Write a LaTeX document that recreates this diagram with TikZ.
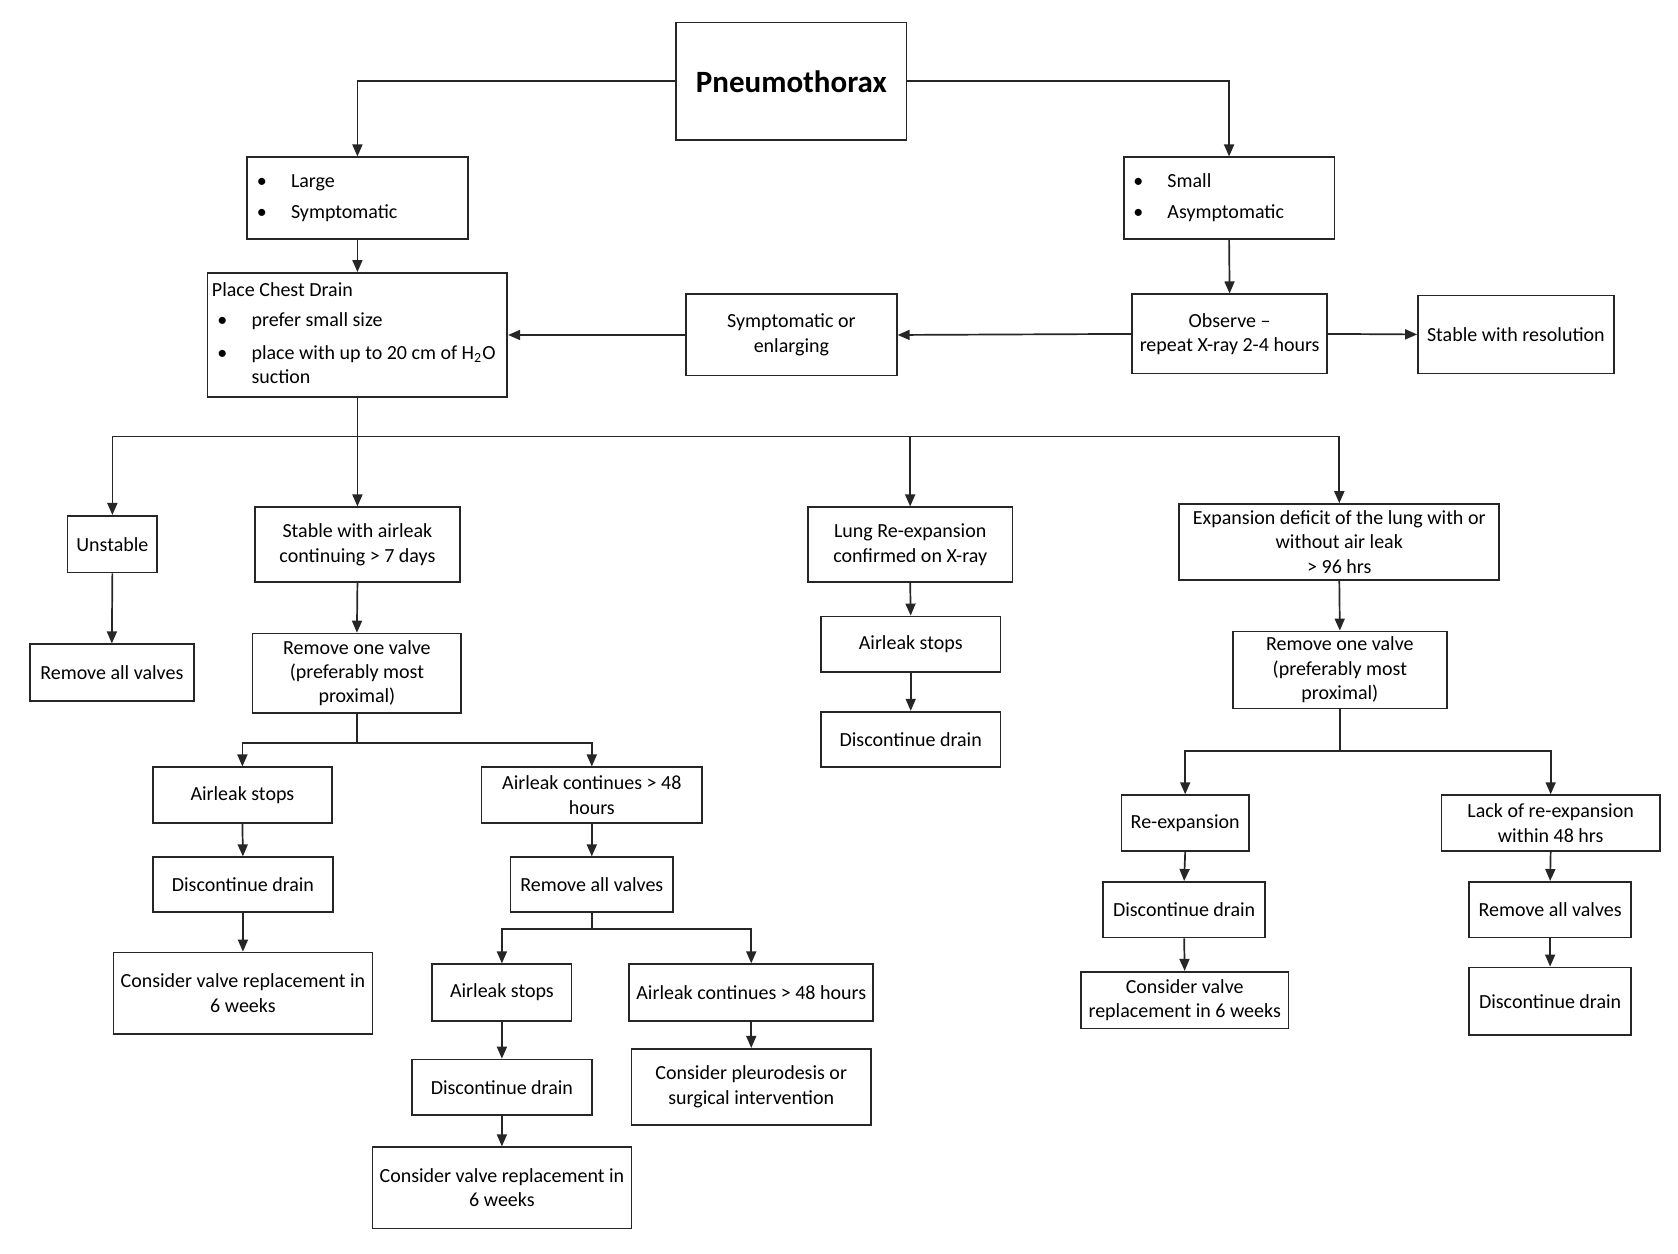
\documentclass[tikz,border=0pt]{standalone}
\usepackage{fontspec}
\setmainfont{Carlito}
\usetikzlibrary{arrows.meta}
\def\ux{0.5351pt}
% bullet with a fixed-width slot for list items inside boxes
\newcommand\bul{\makebox[17.1pt][l]{\textbullet}}
% left-aligned block of lines filling a given width
\newcommand\leftblock[2]{\makebox[#1][l]{\begin{tabular}{@{}l@{}}#2\end{tabular}}}
% \flowbox[options]{name}{x1}{y1}{x2}{y2}{text}: a box given by its corners
\newcommand\flowbox[7][]{%
  \node[box,minimum width={(#5-#3)*\ux},minimum height={(#6-#4)*\ux},#1]
    (#2) at ({(#3+#5)/2},{(#4+#6)/2}) {#7};}
\begin{document}
\begin{tikzpicture}[x=\ux,y=-\ux,
  box/.style={draw=black!85,line width=0.85pt,fill=white,inner sep=2pt,
    align=center,font=\fontsize{10}{12.2}\selectfont},
  link/.style={draw=black!85,line width=0.85pt},
  arr/.style={link,-{Triangle[length=6pt,width=5pt]}}]
\fill[white] (0,0) rectangle (1568,1171);
\useasboundingbox (0,0) rectangle (1568,1171);

% top level
\flowbox[font=\fontsize{15.5}{18}\selectfont\bfseries]{pneu}{632}{21}{847}{131}{Pneumothorax}
\flowbox[inner xsep=0pt]{large}{231}{147}{437}{223}{\leftblock{100.6pt}{\bul Large\\[3.6pt]\bul Symptomatic}}
\flowbox[inner xsep=0pt]{small}{1050}{147}{1247}{223}{\leftblock{95.8pt}{\bul Small\\[3.6pt]\bul Asymptomatic}}
\flowbox[inner xsep=0pt]{drain}{194}{255}{474}{371}{\leftblock{145.5pt}{Place Chest Drain\\[3pt]\hspace*{2.7pt}\bul prefer small size\\[4pt]\hspace*{2.7pt}\bul place with up to 20 cm of H\textsubscript{2}O\\[-0.3pt]\hspace*{19.8pt}suction}}
\flowbox{symp}{641}{275}{838}{351}{Symptomatic or\\enlarging}
\flowbox{observe}{1058}{275}{1240}{349}{Observe –\\repeat X-ray 2-4 hours}
\flowbox{resol}{1325}{276}{1508}{349}{Stable with resolution}

% second level
\flowbox{unstable}{63}{482}{147}{535}{Unstable}
\flowbox{rav1}{28}{602}{181}{655}{Remove all valves}
\flowbox{leak7}{238}{474}{430}{544}{Stable with airleak\\continuing > 7 days}
\flowbox{rov1}{236}{592}{431}{666}{Remove one valve\\(preferably most\\proximal)}
\flowbox{stop1}{143}{717}{310}{769}{Airleak stops}
\flowbox{cont1}{450}{717}{656}{769}{Airleak continues > 48\\hours}
\flowbox{disc1}{143}{801}{311}{852}{Discontinue drain}
\flowbox{repl1}{106}{890}{348}{966}{Consider valve replacement in\\6 weeks}
\flowbox{rav2}{477}{801}{629}{852}{Remove all valves}
\flowbox{stop2}{404}{901}{534}{954}{Airleak stops}
\flowbox{cont2}{588}{901}{816}{954}{Airleak continues > 48 hours}
\flowbox{disc2}{385}{990}{553}{1042}{Discontinue drain}
\flowbox{repl2}{348}{1072}{590}{1148}{Consider valve replacement in\\6 weeks}
\flowbox{pleuro}{590}{980}{814}{1051}{Consider pleurodesis or\\surgical intervention}
\flowbox{lung}{755}{474}{946}{544}{Lung Re-expansion\\confirmed on X-ray}
\flowbox{stop3}{767}{576}{935}{628}{Airleak stops}
\flowbox{disc3}{767}{665}{935}{717}{Discontinue drain}
\flowbox{deficit}{1102}{471}{1401}{542}{Expansion deficit of the lung with or\\without air leak\\> 96 hrs}
\flowbox{rov2}{1152}{590}{1352}{662}{Remove one valve\\(preferably most\\proximal)}
\flowbox{reexp}{1048}{743}{1167}{795}{Re-expansion}
\flowbox{disc4}{1031}{824}{1182}{876}{Discontinue drain}
\flowbox{repl3}{1010}{908}{1204}{961}{Consider valve\\replacement in 6 weeks}
\flowbox{lack}{1347}{743}{1551}{795}{Lack of re-expansion\\within 48 hrs}
\flowbox{rav3}{1373}{824}{1524}{876}{Remove all valves}
\flowbox{disc5}{1373}{904}{1524}{967}{Discontinue drain}

% connectors at the top
\draw[arr] (pneu.west) -| (large.north);
\draw[arr] (pneu.east) -| (small.north);
\draw[arr] (large.south) -- (drain.north);
\draw[arr] (small.south) -- (observe.north);
\draw[arr] (observe.west) -- (symp.east);
\draw[arr] (symp.west) -- (drain.east);
\draw[arr] (observe.east) -- (resol.west);

% main branching below the chest drain
\coordinate (j1) at (drain.south |- 0,408);
\draw[link] (drain.south) -- (j1);
\draw[arr] (j1) -| (unstable.north);
\draw[arr] (j1) -- (leak7.north);
\draw[arr] (j1) -| (lung.north);
\draw[arr] (j1) -| (deficit.north);

% unstable branch
\draw[arr] (unstable.south) -- (rav1.north);

% prolonged airleak branch
\draw[arr] (leak7.south) -- (rov1.north);
\coordinate (j2) at (rov1.south |- 0,694);
\draw[link] (rov1.south) -- (j2);
\draw[arr] (j2) -| (stop1.north);
\draw[arr] (j2) -| (cont1.north);
\draw[arr] (stop1.south) -- (disc1.north);
\draw[arr] (disc1.south) -- (repl1.north);
\draw[arr] (cont1.south) -- (rav2.north);
\coordinate (j3) at (rav2.south |- 0,868);
\draw[link] (rav2.south) -- (j3);
\draw[arr] (j3) -| (stop2.north);
\draw[arr] (j3) -| (cont2.north);
\draw[arr] (stop2.south) -- (disc2.north);
\draw[arr] (disc2.south) -- (repl2.north);
\draw[arr] (cont2.south) -- (pleuro.north);

% re-expansion branch
\draw[arr] (lung.south) -- (stop3.north);
\draw[arr] (stop3.south) -- (disc3.north);

% expansion deficit branch
\draw[arr] (deficit.south) -- (rov2.north);
\coordinate (j4) at (rov2.south |- 0,702);
\draw[link] (rov2.south) -- (j4);
\draw[arr] (j4) -| (reexp.north);
\draw[arr] (j4) -| (lack.north);
\draw[arr] (reexp.south) -- (disc4.north);
\draw[arr] (disc4.south) -- (repl3.north);
\draw[arr] (lack.south) -- (rav3.north);
\draw[arr] (rav3.south) -- (disc5.north);
\end{tikzpicture}
\end{document}
